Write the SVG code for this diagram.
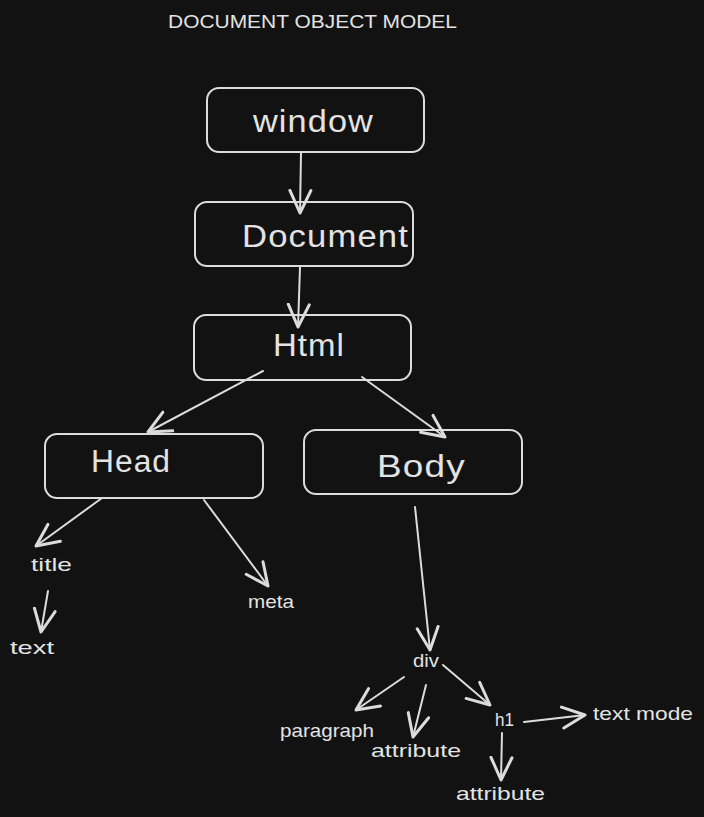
<svg xmlns="http://www.w3.org/2000/svg" width="704" height="817" viewBox="0 0 704 817">
<defs>
<marker id="ah" markerUnits="userSpaceOnUse" markerWidth="30" markerHeight="30" refX="16" refY="10" orient="auto" viewBox="0 0 20 20">
<path d="M1,3 L16,10 L1,17" fill="none" stroke="#dcdcdc" stroke-width="2" stroke-linecap="round" stroke-linejoin="round"/>
</marker>
<style>
.bg{fill:#121212}
.box{fill:none;stroke:#dcdcdc;stroke-width:2}
.big{font-family:"Liberation Sans",Arial,sans-serif;font-size:31px;fill:#e3e3e3;letter-spacing:1px}
.sm{font-family:"Liberation Sans",Arial,sans-serif;font-size:19px;fill:#e3e3e3}
.title{font-family:"Liberation Sans",Arial,sans-serif;font-size:19px;fill:#e3e3e3}
.ln{fill:none;stroke:#dcdcdc;stroke-width:2;stroke-linecap:round;marker-end:url(#ah)}
</style>
</defs>
<rect class="bg" x="0" y="0" width="704" height="817"/>
<text class="title" x="168" y="28" textLength="289" lengthAdjust="spacingAndGlyphs">DOCUMENT OBJECT MODEL</text>
<g id="window"><rect class="box" x="207" y="88" width="217" height="64" rx="12"/><text class="big" x="253" y="132" textLength="121" lengthAdjust="spacingAndGlyphs">window</text></g>
<g id="document"><rect class="box" x="195" y="202" width="218" height="64" rx="12"/><text class="big" x="242" y="247" textLength="167" lengthAdjust="spacingAndGlyphs">Document</text></g>
<g id="html"><rect class="box" x="194" y="315" width="217" height="65" rx="12"/><text class="big" x="273" y="356" textLength="72" lengthAdjust="spacingAndGlyphs">Html</text></g>
<g id="head"><rect class="box" x="45" y="434" width="218" height="64" rx="12"/><text class="big" x="91" y="472" textLength="80" lengthAdjust="spacingAndGlyphs">Head</text></g>
<g id="body"><rect class="box" x="304" y="430" width="218" height="64" rx="12"/><text class="big" x="377" y="477" textLength="89" lengthAdjust="spacingAndGlyphs">Body</text></g>
<g id="title"><text class="sm" x="31" y="571" textLength="41" lengthAdjust="spacingAndGlyphs">title</text></g>
<g id="text"><text class="sm" x="10" y="654" textLength="44" lengthAdjust="spacingAndGlyphs">text</text></g>
<g id="meta"><text class="sm" x="248" y="608" textLength="46" lengthAdjust="spacingAndGlyphs">meta</text></g>
<g id="div"><text class="sm" x="413" y="667" textLength="26" lengthAdjust="spacingAndGlyphs">div</text></g>
<g id="paragraph"><text class="sm" x="280" y="737" textLength="94" lengthAdjust="spacingAndGlyphs">paragraph</text></g>
<g id="attribute1"><text class="sm" x="371" y="757" textLength="90" lengthAdjust="spacingAndGlyphs">attribute</text></g>
<g id="h1"><text class="sm" x="495" y="726" textLength="19" lengthAdjust="spacingAndGlyphs">h1</text></g>
<g id="textmode"><text class="sm" x="593" y="720" textLength="100" lengthAdjust="spacingAndGlyphs">text mode</text></g>
<g id="attribute2"><text class="sm" x="456" y="800" textLength="89" lengthAdjust="spacingAndGlyphs">attribute</text></g>
<g id="connectors">
<line class="ln" x1="301" y1="153" x2="300" y2="213"/>
<line class="ln" x1="300" y1="267" x2="298" y2="327"/>
<line class="ln" x1="263" y1="371" x2="148" y2="432"/>
<line class="ln" x1="362" y1="377" x2="445" y2="437"/>
<line class="ln" x1="102" y1="498" x2="36" y2="546"/>
<line class="ln" x1="204" y1="500" x2="268" y2="586"/>
<line class="ln" x1="48" y1="591" x2="41" y2="632"/>
<line class="ln" x1="415" y1="507" x2="430" y2="650"/>
<line class="ln" x1="404" y1="677" x2="356" y2="710"/>
<line class="ln" x1="426" y1="685" x2="413" y2="737"/>
<line class="ln" x1="443" y1="665" x2="490" y2="705"/>
<line class="ln" x1="524" y1="722" x2="585" y2="715"/>
<line class="ln" x1="502" y1="733" x2="501" y2="780"/>
</g>
</svg>
